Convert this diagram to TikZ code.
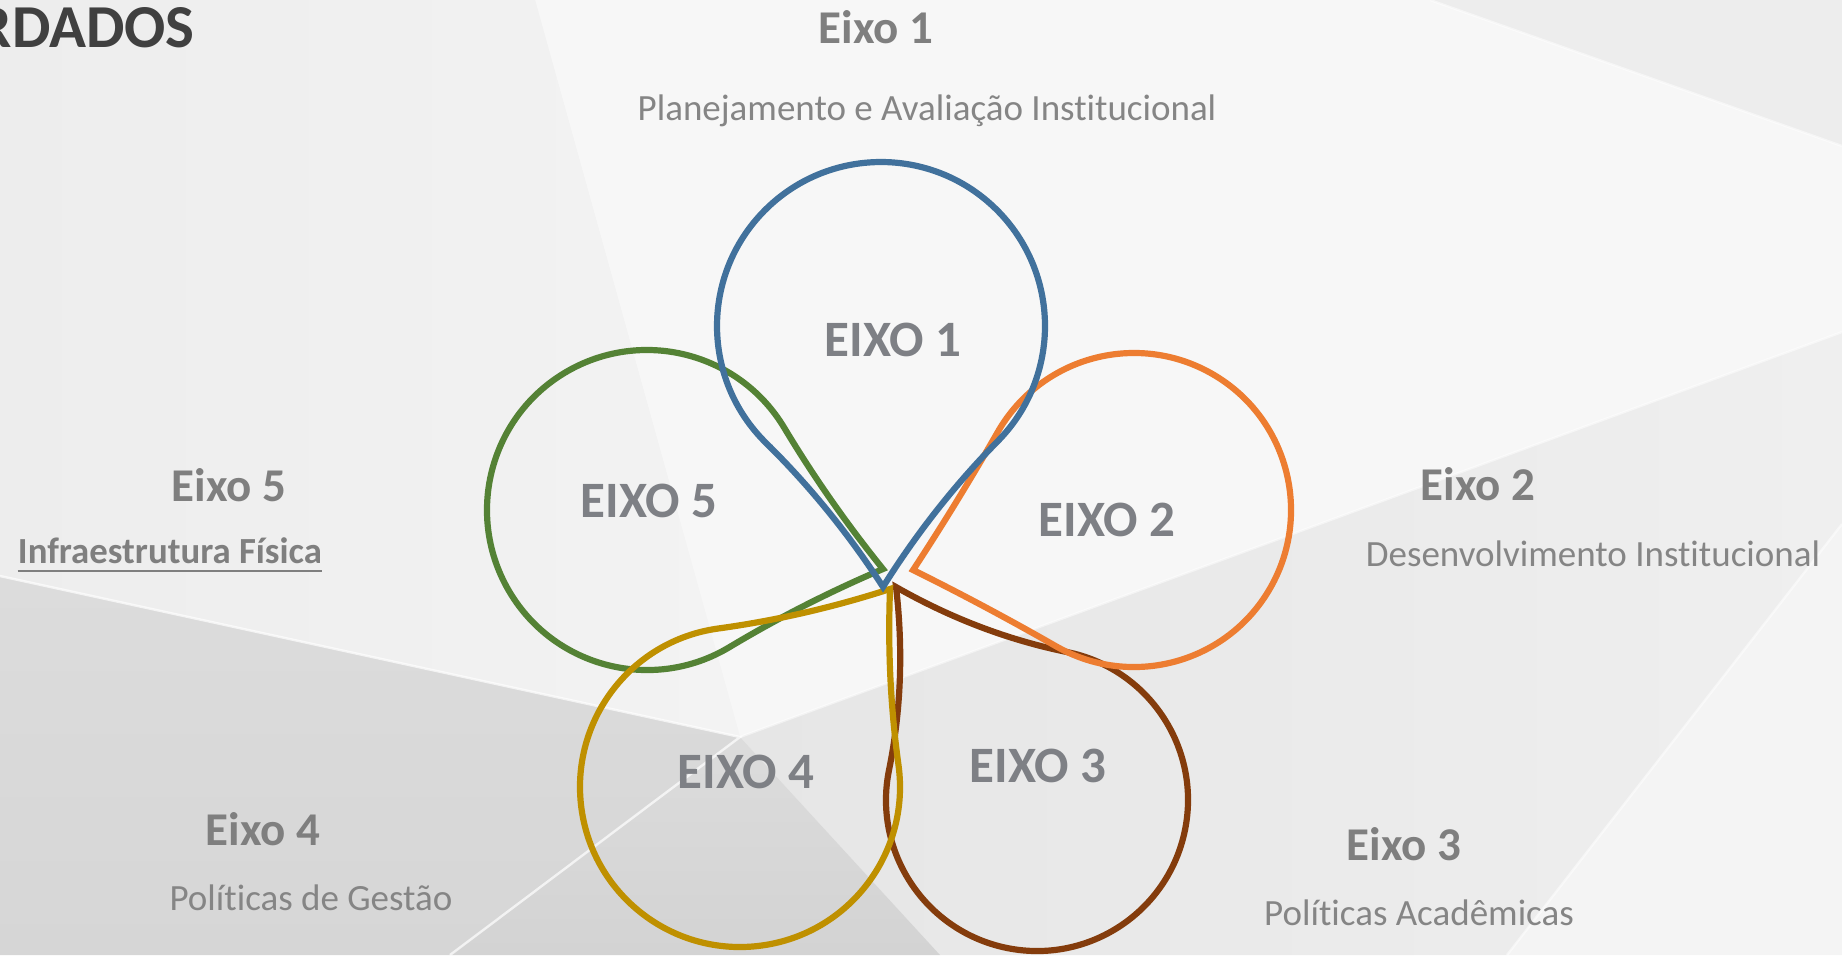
\documentclass[tikz,border=0pt]{standalone}
\usepackage{fontspec}
\setmainfont{Carlito}[Ligatures=NoCommon]
\definecolor{cblue}{HTML}{41719C}
\definecolor{corange}{HTML}{ED7D31}
\definecolor{cbrown}{HTML}{843C0C}
\definecolor{cgold}{HTML}{BF9000}
\definecolor{cgreen}{HTML}{548235}
\definecolor{labgray}{HTML}{7F7F7F}
\definecolor{subgray}{HTML}{858585}
\definecolor{petgray}{HTML}{7E8085}
\definecolor{titlegray}{HTML}{404040}
\definecolor{bgbase}{HTML}{F3F3F3}
\definecolor{bgbright}{HTML}{F7F7F7}
\definecolor{bgtr}{HTML}{EDEDED}
\definecolor{bgleftA}{HTML}{EDEDED}
\definecolor{bgleftB}{HTML}{F3F3F3}
\definecolor{bgblA}{HTML}{DCDCDC}
\definecolor{bgblB}{HTML}{D6D6D6}
\definecolor{bgdkA}{HTML}{D3D3D3}
\definecolor{bgdkB}{HTML}{DCDCDC}
\definecolor{bgbcA}{HTML}{E6E6E6}
\definecolor{bgbcB}{HTML}{EFEFEF}
\definecolor{bgbr}{HTML}{F4F4F4}
\newcommand\petalpath[1]{(0,1) .. controls ({#1/3},1) and ({2*#1/3},{(#1+2)/3}) .. (#1,#1) .. controls ({(#1+2)/3},{2*#1/3}) and (1,{#1/3}) .. (1,0) arc[start angle=0,end angle=-270,radius=1] -- cycle}
\begin{document}
\begin{tikzpicture}[x=0.5pt,y=-0.5pt,
  petalline/.style={line width=3.1pt, line join=miter, miter limit=10},
  axlabel/.style={font=\fontsize{23.5}{28}\selectfont\bfseries, text=labgray, inner sep=0pt, anchor=base},
  axsub/.style={font=\fontsize{18.5}{22}\selectfont, text=subgray, inner sep=0pt, anchor=base},
  petlabel/.style={font=\fontsize{25.5}{30}\selectfont\bfseries, text=petgray, inner sep=0pt},
  facetedge/.style={white, line width=1.2pt, opacity=0.7}]
\useasboundingbox (0,0) rectangle (1842,955);
\begin{scope}
\clip (0,0) rectangle (1842,955);
% background facets
\fill[bgbase] (0,0) rectangle (1842,955);
\fill[bgbright] (535,0) -- (1430,0) -- (1842,146) -- (1842,332) -- (740,737) -- cycle;
\fill[bgtr] (1430,0) -- (1842,0) -- (1842,146) -- cycle;
\shade[left color=bgleftA, right color=bgleftB] (0,0) -- (535,0) -- (740,737) -- (0,576) -- cycle;
\shade[top color=bgblA, bottom color=bgblB] (0,576) -- (740,737) -- (450,955) -- (0,955) -- cycle;
\shade[left color=bgbcA, right color=bgbcB] (740,737) -- (940,955) -- (1507,955) -- (1842,524) -- (1842,332) -- cycle;
\shade[top color=bgdkB, bottom color=bgdkA] (740,737) -- (450,955) -- (940,955) -- cycle;
\fill[bgbr] (1842,524) -- (1842,955) -- (1507,955) -- cycle;
\draw[facetedge] (0,576) -- (740,737) -- (450,955);
\draw[facetedge, opacity=0.5] (740,737) -- (1842,332);
\draw[facetedge, opacity=0.5] (1842,524) -- (1507,955);
\draw[facetedge, opacity=0.5] (1430,0) -- (1842,146);
% title fragment
\node[font=\fontsize{30.5}{36}\selectfont\bfseries, text=titlegray, inner sep=0pt, anchor=base east] (title) at (195,47) {RDADOS};
\end{scope}
% petals
\begin{scope}[shift={(647,510)}, rotate=30.96, scale=160]
\draw[petalline, draw=cgreen] \petalpath{1.075};
\end{scope}
\begin{scope}[shift={(1037,800)}, rotate=168.5, scale=151]
\draw[petalline, draw=cbrown] \petalpath{1.196};
\end{scope}
\begin{scope}[shift={(740,787)}, rotate=97.85, scale=160]
\draw[petalline, draw=cgold] \petalpath{1.098};
\end{scope}
\begin{scope}[shift={(1134,510)}, rotate=-119.81, scale=157]
\draw[petalline, draw=corange] \petalpath{1.031};
\end{scope}
\begin{scope}[shift={(881,326)}, rotate=-44.56, scale=164]
\draw[petalline, draw=cblue] \petalpath{1.125};
\end{scope}
% petal labels
\node[petlabel] (p1) at (893,340) {EIXO 1};
\node[petlabel] (p2) at (1107,520) {EIXO 2};
\node[petlabel] (p3) at (1038,766) {EIXO 3};
\node[petlabel] (p4) at (746,772) {EIXO 4};
\node[petlabel] (p5) at (649,501) {EIXO 5};
% outer labels
\node[axlabel] (e1) at (876,43) {Eixo 1};
\node[axsub] (s1) at (927,120) {Planejamento e Avaliação Institucional};
\node[axlabel] (e2) at (1478,500) {Eixo 2};
\node[axsub] (s2) at (1593,566) {Desenvolvimento Institucional};
\node[axlabel] (e3) at (1404,860) {Eixo 3};
\node[axsub] (s3) at (1419,925) {Políticas Acadêmicas};
\node[axlabel] (e4) at (263,845) {Eixo 4};
\node[axsub] (s4) at (311,910) {Políticas de Gestão};
\node[axlabel] (e5) at (229,501) {Eixo 5};
\node[axlabel, font=\fontsize{18.4}{22}\selectfont\bfseries] (s5) at (170,563) {Infraestrutura Física};
\draw[labgray, line width=1pt] ([yshift=-4pt]s5.base west) -- ([yshift=-4pt]s5.base east);
\end{tikzpicture}
\end{document}
